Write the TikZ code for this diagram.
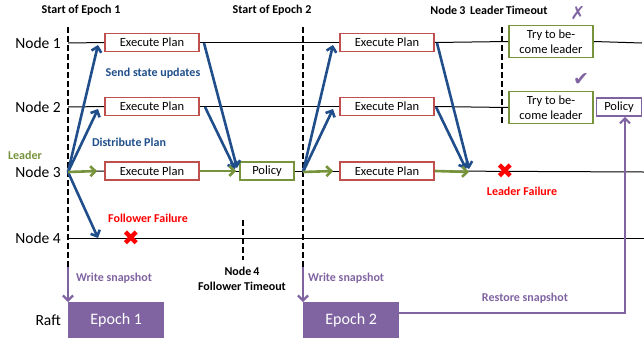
\documentclass[tikz,border=0pt]{standalone}
\usepackage{fontspec}
\setmainfont{Carlito}
\newfontfamily\symfont{DejaVu Sans}
\usetikzlibrary{arrows.meta,calc}
\definecolor{cblue}{HTML}{1F4E8A}
\definecolor{cgreen}{HTML}{77933C}
\definecolor{cred}{HTML}{C0504D}
\definecolor{cpurple}{HTML}{8064A2}
\definecolor{bred}{HTML}{FF0000}
\tikzset{
  nodelab/.style={anchor=east, inner sep=0pt, font=\fontsize{15.5}{17}\selectfont},
  boldlab/.style={inner sep=0pt, font=\bfseries\fontsize{12}{14}\selectfont},
  planbox/.style={draw=cred, line width=1.7pt, fill=white, minimum width=94pt, minimum height=18pt, inner sep=0pt, font=\fontsize{12.5}{14}\selectfont},
  polbox/.style={draw=cgreen, line width=1.7pt, fill=white, minimum width=54pt, minimum height=18pt, inner sep=0pt, font=\fontsize{12.5}{14}\selectfont},
  trybox/.style={draw=cgreen, line width=1.7pt, fill=white, minimum width=84pt, minimum height=32pt, inner sep=0pt, align=center, font=\fontsize{12.5}{15}\selectfont},
  ppolbox/.style={draw=cpurple, line width=1.7pt, fill=white, minimum width=45pt, minimum height=18pt, inner sep=0pt, font=\fontsize{12.5}{14}\selectfont},
  epochbox/.style={fill=cpurple, text=white, minimum width=96pt, minimum height=36pt, inner sep=0pt, anchor=north west, font=\fontsize{16}{18}\selectfont},
  tline/.style={draw=black, line width=1pt},
  dashv/.style={draw=black, line width=2.6pt, dash pattern=on 6pt off 3pt},
  bluearr/.style={draw=cblue, line width=2.6pt, -{Straight Barb[length=5pt,width=10pt]}},
  greenarr/.style={draw=cgreen, line width=2.6pt, -{Straight Barb[length=5pt,width=10pt]}},
  purparr/.style={draw=cpurple, line width=2.2pt, -{Straight Barb[length=5pt,width=10pt]}},
  xmark/.style={text=bred, inner sep=0pt, font=\symfont\fontsize{21}{21}\selectfont},
  checkmark/.style={text=cpurple, inner sep=0pt},
}
\begin{document}
\begin{tikzpicture}[x=1pt,y=-1pt]
\useasboundingbox (0,0) rectangle (644,338);

% row labels
\node[nodelab] (l1) at (61,43) {Node 1};
\node[nodelab] (l2) at (61,107) {Node 2};
\node[nodelab] (l3) at (61,172) {Node 3};
\node[nodelab] (l4) at (61,238) {Node 4};
\node[nodelab] (lr) at (61,320) {Raft};
\node[boldlab, text=cgreen] (leader) at (25,155) {Leader};

% coordinates
\coordinate (a1) at (68,43);  \coordinate (a2) at (68,107);
\coordinate (a3) at (68,172); \coordinate (a4) at (68,238);
\coordinate (b3) at (303,172);
\coordinate (r1) at (642,43); \coordinate (r3) at (644,172); \coordinate (r4) at (644,238);

% boxes
\node[planbox] (p11) at (152,42.5) {Execute Plan};
\node[planbox] (p12) at (152,106.5) {Execute Plan};
\node[planbox] (p13) at (152,171) {Execute Plan};
\node[polbox]  (pol1) at (267,171) {Policy};
\node[planbox] (p21) at (387,42.5) {Execute Plan};
\node[planbox] (p22) at (387,106.5) {Execute Plan};
\node[planbox] (p23) at (387,171) {Execute Plan};
\node[trybox] (t1) at (551,41.5) {Try to be-\\come leader};
\node[trybox] (t2) at (551,107.5) {Try to be-\\come leader};
\node[ppolbox] (pp) at (619,107) {Policy};

% timelines
\draw[tline] (a1) -- (p11.west);
\draw[tline] (p11.east) -- (p21.west);
\draw[tline] (p21.east) -- (t1.west);
\draw[tline] (t1.east) -- (r1);
\draw[tline] (a2) -- (p12.west);
\draw[tline] (p12.east) -- (p22.west);
\draw[tline] (p22.east) -- (t2.west);
\draw[tline] (a3) -- (p13.west);
\draw[tline] (p13.east) -- (pol1.west);
\draw[tline] (pol1.east) -- (p23.west);
\draw[tline] (p23.east) -- (r3);
\draw[tline] (a4) -- (r4);

% epoch boxes
\node[epochbox] (ep1) at (68,302) {Epoch 1};
\node[epochbox] (ep2) at (303,302) {Epoch 2};

% dashed vertical lines
\coordinate (d1t) at (68,27);  \coordinate (d1b) at (68,267);
\coordinate (d2t) at (303,27); \coordinate (d2b) at (303,267);
\coordinate (d3t) at (502,27); \coordinate (d3b) at (502,123);
\coordinate (d4t) at (243,220); \coordinate (d4b) at (243,260);
\draw[dashv] (d1t) -- (d1b);
\draw[dashv] (d2t) -- (d2b);
\draw[dashv] (d3t) -- (d3b);
\draw[dashv] (d4t) -- (d4b);
\draw[purparr] (d1b) -- (d1b |- ep1.north);
\draw[purparr] (d2b) -- (d2b |- ep2.north);

% blue arrows epoch 1
\coordinate (q11) at (98,45); \coordinate (q12) at (98,109); \coordinate (q14) at (98,238);
\draw[bluearr] (a3) -- (q11);
\draw[bluearr] (a3) -- (q12);
\draw[bluearr] (a3) -- (q14);
\coordinate (s11) at (204,43); \coordinate (s12) at (205,107);
\coordinate (u11) at (237,168); \coordinate (u12) at (235,169);
\draw[bluearr] (s11) -- (u11);
\draw[bluearr] (s12) -- (u12);

% blue arrows epoch 2
\coordinate (q21) at (333,45); \coordinate (q22) at (333,109);
\draw[bluearr] (b3) -- (q21);
\draw[bluearr] (b3) -- (q22);
\coordinate (s21) at (437,43); \coordinate (s22) at (436,107);
\coordinate (u21) at (469,169); \coordinate (u22) at (466,169);
\draw[bluearr] (s21) -- (u21);
\draw[bluearr] (s22) -- (u22);

% green arrows
\draw[greenarr] (a3) -- ($(p13.west)+(-7,0)$);
\draw[greenarr] (p13.east) -- ($(pol1.west)+(-3,0)$);
\draw[greenarr] (b3) -- ($(p23.west)+(-6,0)$);
\coordinate (g2e) at (469,172);
\draw[greenarr] (p23.east) -- (g2e);

% purple restore path
\coordinate (rc) at (625,313);
\draw[purparr] (ep2.east |- rc) -- (rc) -- (pp.south -| rc);

% failure marks
\node[xmark] (x4) at (131,238) {✖};
\node[xmark] (x3) at (505,171) {✖};

% labels
\node[boldlab] (h1) at (81,10) {Start of Epoch 1};
\node[boldlab] (h2) at (272,10) {Start of Epoch 2};
\node[boldlab] (h3) at (489,10) {Node\,3 \,Leader\,Timeout};
\node[boldlab, text=cblue] (ssu) at (153,73) {Send state updates};
\node[boldlab, text=cblue] (dp) at (129,142) {Distribute Plan};
\node[boldlab, text=bred] (ff) at (148,218) {Follower Failure};
\node[boldlab, text=bred] (lf) at (522,191) {Leader Failure};
\node[boldlab, align=center] (ft) at (242,279) {Node\,4\\[1pt]Follower Timeout};
\node[boldlab, text=cpurple] (ws1) at (114,278) {Write snapshot};
\node[boldlab, text=cpurple, anchor=west] (ws2) at (308,278) {Write snapshot};
\node[boldlab, text=cpurple] (rs) at (525,298) {Restore snapshot};
\node[checkmark, font=\symfont\fontsize{18}{18}\selectfont] (no) at (578,13) {✗};
\node[checkmark, font=\symfont\fontsize{19}{19}\selectfont] (yes) at (581,80) {✔};
\end{tikzpicture}
\end{document}
